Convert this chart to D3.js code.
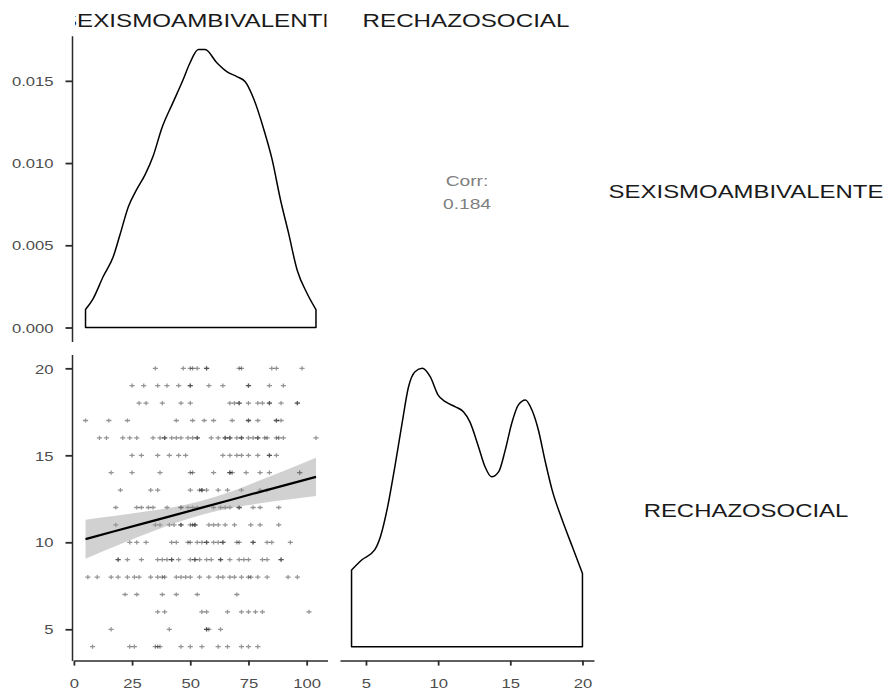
<!DOCTYPE html>
<html>
<head>
<meta charset="utf-8">
<script src="https://cdn.jsdelivr.net/npm/d3@7"></script>
<style>
  html, body { margin: 0; padding: 0; background: #fff; }
  svg { display: block; font-family: "Liberation Sans", Arial, sans-serif; }
</style>
</head>
<body>
<svg id="chart" width="890" height="693"></svg>
<script>
// ---------------- data ----------------
const varNames = ["SEXISMOAMBIVALENTE", "RECHAZOSOCIAL"];
const corrLabel = "Corr:";
const corrValue = "0.184";

// density of SEXISMOAMBIVALENTE
const sexDensX = [5, 8.3, 12.6, 16.9, 19.8, 23.4, 27.0, 30.6, 34.1, 37.7, 42.7, 47.0, 49.9, 53.5, 56.4, 61.4, 65.7, 70.0, 73.6, 77.2, 81.5, 85.1, 88.7, 92.2, 95.9, 100.2, 104];
const sexDensY = [0.00109, 0.00176, 0.0031, 0.0043, 0.00564, 0.00735, 0.0084, 0.0093, 0.01045, 0.01209, 0.01372, 0.0151, 0.0161, 0.0169, 0.0169, 0.0161, 0.01556, 0.01526, 0.01495, 0.01393, 0.01209, 0.01025, 0.0078, 0.00575, 0.0035, 0.00207, 0.00109];

// density of RECHAZOSOCIAL
const rechDensX = [4, 4.7, 5.6, 6.0, 6.5, 7.0, 7.5, 7.95, 8.4, 8.9, 9.45, 10.0, 10.5, 11.2, 11.75, 12.2, 12.8, 13.25, 13.7, 14.2, 14.65, 15.1, 15.55, 16.05, 16.5, 16.95, 17.4, 17.9, 18.6, 19.3, 20];
const rechDensY = [0.0266, 0.0301, 0.0336, 0.0382, 0.0486, 0.0625, 0.0776, 0.0903, 0.0955, 0.0967, 0.0938, 0.0874, 0.0851, 0.0833, 0.0816, 0.0781, 0.0694, 0.0625, 0.0590, 0.0608, 0.0683, 0.0776, 0.0839, 0.0857, 0.0822, 0.0752, 0.0648, 0.0544, 0.0440, 0.0347, 0.0255];

// scatter: RECHAZOSOCIAL value per row, and SEXISMOAMBIVALENTE values in that row
const scatterRowY = [20, 19, 18, 17, 16, 15, 14, 13, 12, 11, 10, 9, 8, 7, 6, 5, 4];
const scatterRowX = [
  [35, 47, 50, 51, 53, 57, 57, 71, 72, 85, 87, 98],
  [25, 30, 36, 40, 45, 50, 50, 58, 64, 75, 75, 84, 90],
  [28, 31, 38, 46, 50, 67, 69, 71, 71, 75, 79, 81, 84, 84, 89, 96, 96],
  [5, 15, 23, 44, 51, 56, 60, 68, 75, 75, 79, 87, 87, 89],
  [11, 14, 21, 24, 27, 34, 37, 39, 39, 42, 44, 46, 49, 51, 53, 53, 59, 62, 65, 65, 67, 67, 70, 72, 72, 75, 77, 79, 79, 82, 83, 87, 88, 90, 104],
  [25, 29, 36, 41, 45, 48, 64, 67, 70, 72, 75, 79, 84, 84, 87],
  [16, 25, 37, 50, 51, 60, 67, 67, 68, 74, 80, 84, 97, 97],
  [20, 33, 36, 50, 54, 55, 55, 57, 62, 66, 72, 80, 83],
  [18, 27, 29, 32, 34, 40, 46, 46, 49, 51, 53, 60, 63, 65, 67, 71, 71, 77, 80, 88],
  [18, 35, 37, 41, 43, 46, 46, 50, 51, 52, 52, 58, 60, 62, 65, 69, 76, 80, 88],
  [24, 27, 31, 42, 44, 49, 50, 53, 55, 57, 57, 60, 62, 64, 64, 70, 71, 77, 77, 83, 85, 93],
  [19, 19, 23, 29, 36, 38, 40, 42, 42, 45, 50, 52, 52, 54, 57, 59, 63, 63, 67, 71, 73, 75, 81, 83, 89, 89],
  [6, 10, 16, 19, 23, 26, 28, 33, 36, 38, 39, 44, 46, 48, 50, 54, 58, 62, 64, 67, 69, 72, 75, 76, 79, 83, 92, 96],
  [22, 27, 38, 44, 53, 70],
  [36, 39, 55, 57, 66, 72, 75, 78, 81, 101],
  [16, 41, 57, 57, 58, 63],
  [8, 24, 26, 35, 36, 37, 46, 50, 55, 62, 66, 72, 75, 79]
];

// linear smooth with confidence band
const smoothX   = [5, 17, 30, 42, 55, 68, 80, 92, 104];
const smoothFit = [10.18, 10.62, 11.09, 11.52, 11.99, 12.46, 12.90, 13.33, 13.76];
const smoothLo  = [9.06, 9.73, 10.43, 11.04, 11.59, 11.98, 12.24, 12.46, 12.66];
const smoothHi  = [11.30, 11.51, 11.75, 12.00, 12.39, 12.94, 13.56, 14.20, 14.86];

// tick values
const sexTicks = [0, 25, 50, 75, 100];
const rechTicks = [5, 10, 15, 20];
const densTicks = [0, 0.005, 0.010, 0.015];

// ---------------- layout ----------------
const TS = 1.28; // horizontal text stretch seen in the picture
const col1 = [74, 327.5], col2 = [340, 594];
const row1 = [35.7, 341.4], row2 = [354.4, 660.6];
const axisColor = "#2b2b2b";
const tickTextColor = "#4d4d4d";

const svg = d3.select("#chart");
const expand = ([a, b]) => { const r = b - a; return [a - 0.05 * r, b + 0.05 * r]; };

const scatterPts = [];
scatterRowY.forEach((y, i) => scatterRowX[i].forEach(x => scatterPts.push({ x, y })));

const sexExtent = d3.extent(sexDensX);
const rechExtent = d3.extent(rechDensX);

const xSex = d3.scaleLinear().domain(expand(sexExtent)).range(col1);
const xRech = d3.scaleLinear().domain(expand(rechExtent)).range(col2);
const yDens1 = d3.scaleLinear().domain(expand([0, d3.max(sexDensY)])).range([row1[1], row1[0]]);
const yRech = d3.scaleLinear().domain(expand(rechExtent)).range([row2[1], row2[0]]);
const yDens2 = d3.scaleLinear().domain(expand([0, d3.max(rechDensY)])).range([row2[1], row2[0]]);

function stretchedText(g, x, y, str, anchor, size, color) {
  return g.append("text")
    .attr("transform", `translate(${x},${y}) scale(${TS},1)`)
    .attr("text-anchor", anchor)
    .attr("font-size", size)
    .attr("fill", color)
    .text(str);
}

// ---------------- density panels ----------------
function densityPath(xs, ys, xs_, ys_) {
  const pts = xs.map((x, i) => [xs_(x), ys_(ys[i])]);
  const curve = d3.line().curve(d3.curveMonotoneX)(pts);
  const base = ys_(0);
  return `M${pts[0][0]},${base}L` + curve.slice(1) + `L${pts[pts.length - 1][0]},${base}Z`;
}

svg.append("path")
  .attr("d", densityPath(sexDensX, sexDensY, xSex, yDens1))
  .attr("fill", "none").attr("stroke", "#000").attr("stroke-width", 1.5)
  .attr("stroke-linejoin", "round");

svg.append("path")
  .attr("d", densityPath(rechDensX, rechDensY, xRech, yDens2))
  .attr("fill", "none").attr("stroke", "#000").attr("stroke-width", 1.5)
  .attr("stroke-linejoin", "round");

// ---------------- scatter panel ----------------
svg.append("g").selectAll("path")
  .data(scatterPts)
  .join("path")
  .attr("transform", d => `translate(${xSex(d.x)},${yRech(d.y)})`)
  .attr("d", "M-2.6,0H2.6M0,-2.1V2.1")
  .attr("stroke", "#000")
  .attr("stroke-opacity", 0.42)
  .attr("stroke-width", 1.3)
  .attr("fill", "none");

const band = smoothX.map((x, i) => ({ x, lo: smoothLo[i], hi: smoothHi[i], fit: smoothFit[i] }));
svg.append("path")
  .datum(band)
  .attr("d", d3.area().curve(d3.curveMonotoneX).x(d => xSex(d.x)).y0(d => yRech(d.lo)).y1(d => yRech(d.hi)))
  .attr("fill", "#999999").attr("fill-opacity", 0.45);
svg.append("path")
  .datum(band)
  .attr("d", d3.line().x(d => xSex(d.x)).y(d => yRech(d.fit)))
  .attr("fill", "none").attr("stroke", "#000").attr("stroke-width", 2.2);

// ---------------- correlation text ----------------
const cx = (col2[0] + col2[1]) / 2;
stretchedText(svg, cx, 186, corrLabel, "middle", 15, "#7f7f7f");
stretchedText(svg, cx, 208.5, corrValue, "middle", 15, "#7f7f7f");

// ---------------- axes ----------------
function styleAxis(g, kind) {
  g.select(".domain").attr("stroke", axisColor).attr("stroke-width", 1.5);
  g.selectAll(".tick line").attr("stroke", axisColor).attr("stroke-width", 1.8);
  g.selectAll(".tick text")
    .attr("fill", tickTextColor)
    .attr("font-size", 13)
    .attr("font-family", "'Liberation Sans', Arial, sans-serif")
    .attr("x", null).attr("y", null).attr("dy", null)
    .attr("transform", kind === "left" ? `translate(-18.5,4.7) scale(${TS},1)` : `translate(0,27) scale(${TS},1)`);
}

const axX1 = col1[0] - 2;
svg.append("g").attr("transform", `translate(${axX1},0)`)
  .call(d3.axisLeft(yDens1).tickValues(densTicks).tickFormat(d3.format(".3f")).tickSize(6.5).tickSizeOuter(0))
  .call(g => styleAxis(g, "left"));

svg.append("g").attr("transform", `translate(${axX1},0)`)
  .call(d3.axisLeft(yRech).tickValues(rechTicks).tickFormat(d3.format("d")).tickSize(6.5).tickSizeOuter(0))
  .call(g => styleAxis(g, "left"));

svg.append("g").attr("transform", `translate(0,${row2[1]})`)
  .call(d3.axisBottom(xSex).tickValues(sexTicks).tickFormat(d3.format("d")).tickSize(5).tickSizeOuter(0))
  .call(g => styleAxis(g, "bottom"));

svg.append("g").attr("transform", `translate(0,${row2[1]})`)
  .call(d3.axisBottom(xRech).tickValues(rechTicks).tickFormat(d3.format("d")).tickSize(5).tickSizeOuter(0))
  .call(g => styleAxis(g, "bottom"));

// ---------------- strips ----------------
const defs = svg.append("defs");
[col1, col2].forEach((c, i) => {
  defs.append("clipPath").attr("id", "stripclip" + i)
    .append("rect").attr("x", c[0] + 1).attr("y", 0).attr("width", c[1] - c[0] - 2).attr("height", 34);
  const g = svg.append("g").attr("clip-path", `url(#stripclip${i})`);
  stretchedText(g, (c[0] + c[1]) / 2 - 1, 27.2, varNames[i], "middle", 18.9, "#1a1a1a");
});
[row1, row2].forEach((r, i) => {
  stretchedText(svg, 746, (r[0] + r[1]) / 2 + 9.3, varNames[i], "middle", 18.7, "#1a1a1a");
});
</script>
</body>
</html>
